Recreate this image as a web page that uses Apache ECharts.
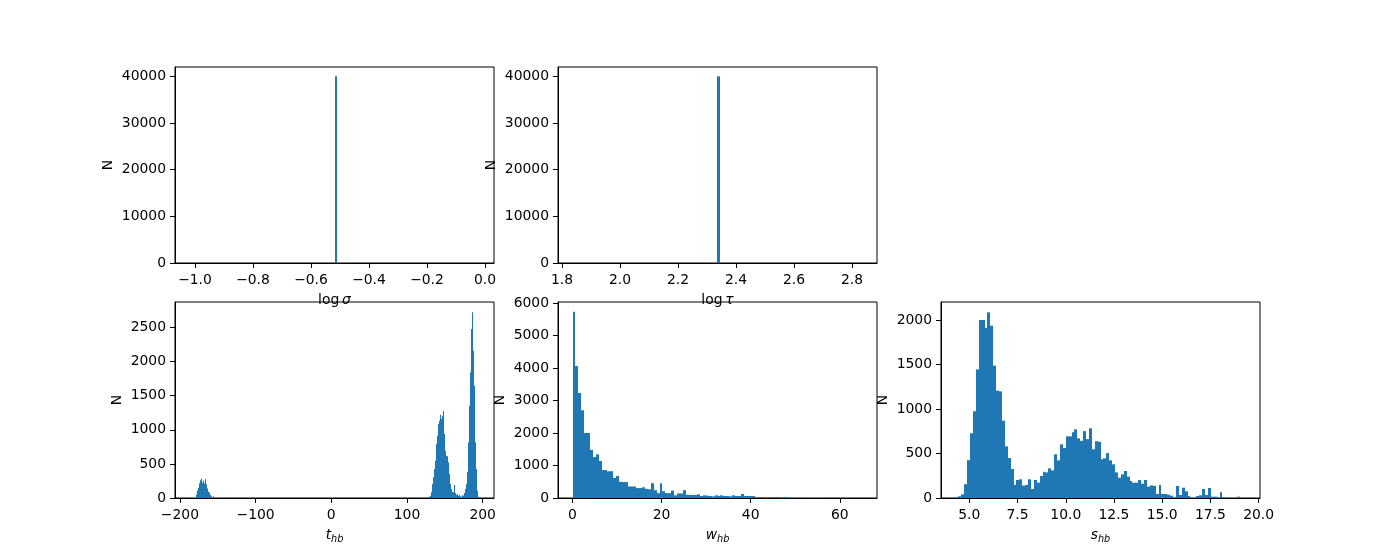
<!DOCTYPE html>
<html><head><meta charset="utf-8">
<script src="https://cdn.jsdelivr.net/npm/echarts@6/dist/echarts.min.js"></script>
<style>html,body{margin:0;padding:0;background:#fff}#c{width:1400px;height:560px}</style>
</head><body><div id="c"></div>
<script>
// ---- data ----
const sigmaStart = -0.519, sigmaBinWidth = 0.01, sigmaCounts = [40000];
const tauStart = 2.336, tauBinWidth = 0.01, tauCounts = [40000];

const tBinWidth = 1.32;
const tLeftStart = -187.3;
const tLeftCounts = [10,0,0,0,0,0,50,110,150,215,260,285,225,255,215,280,200,140,90,80,45,25,0,25];
const tRightStart = 127.3;
const tRightCounts = [10,20,34,83,205,303,425,547,792,914,1085,1134,1222,1158,1207,1276,938,694,620,611,523,352,205,132,93,83,190,73,44,59,29,49,24,20,44,34,73,132,205,386,816,1354,1843,2478,2723,2160,1647,816,425,108,20];

const wStart = 0, wBinWidth = 0.651;
const wCounts = [5730,4060,3230,2700,2000,2000,1480,1260,1340,1140,
  860,860,820,825,620,677,500,490,490,355,
  355,355,305,305,330,280,270,455,240,150,
  455,210,150,150,230,82,140,140,240,100,
  92,92,92,113,62,82,72,62,51,82,
  62,82,62,62,51,82,62,62,123,62,
  62,62,62,31,31,31,10,20,31,31,
  31,31,10,31,8,5,4,3,2,2,
  1,1,0,1,1,0,1,0,0,1,
  0,0,1,0,0,0,0,0,0,1];

const sStart = 4.284, sBinWidth = 0.1504;
const sCounts = [9,19,41,155,425,728,975,1445,2000,2000,
  1910,2086,1936,1487,1206,1198,869,580,449,326,
  146,202,210,139,146,210,101,202,172,247,
  296,288,333,311,491,423,603,562,693,693,
  738,771,670,642,751,661,783,548,638,631,
  436,446,504,423,378,288,228,266,303,240,
  191,172,172,202,161,202,127,142,135,45,
  146,45,45,37,26,7,135,34,116,75,
  22,7,0,22,30,101,34,112,15,15,
  0,64,11,0,0,0,0,15,0,4];

// tick labels
const sigmaTicks = [-1.0,-0.8,-0.6,-0.4,-0.2,0.0];
const tauTicks = [1.8,2.0,2.2,2.4,2.6,2.8];
const topYTicks = [0,10000,20000,30000,40000];
const tXTicks = [-200,-100,0,100,200];
const tYTicks = [0,500,1000,1500,2000,2500];
const wXTicks = [0,20,40,60];
const wYTicks = [0,1000,2000,3000,4000,5000,6000];
const sXTicks = [5.0,7.5,10.0,12.5,15.0,17.5,20.0];
const sYTicks = [0,500,1000,1500,2000];

// ---- chart ----
const FONT = 'DejaVu Sans';
const FS = 13.9;
const BLUE = '#1f77b4';

function bins(start, width, counts) {
  return counts.map((c, i) => [start + i * width, start + (i + 1) * width, c]);
}
function fmt(dec) {
  return v => (dec ? Number(v).toFixed(dec) : String(Math.round(v))).replace('-', '\u2212');
}
const rich = {
  r: {fontFamily: FONT, fontSize: FS, color: '#000'},
  i: {fontFamily: FONT, fontSize: FS, fontStyle: 'italic', color: '#000'},
  s: {fontFamily: FONT, fontSize: 9.7, fontStyle: 'italic', color: '#000', padding: [7, 0, 0, 0]}
};

const grids = [
  {left: 175, top: 67},
  {left: 558, top: 67},
  {left: 175, top: 302},
  {left: 558, top: 302},
  {left: 941, top: 302}
].map(g => Object.assign(g, {width: 319, height: 196, show: true, borderColor: '#000', borderWidth: 1,
  backgroundColor: 'transparent', containLabel: false, outerBoundsMode: 'none'}));

function xAx(idx, min, max, ticks, dec, name, gap) {
  return {
    type: 'value', gridIndex: idx, min: min, max: max, position: 'bottom',
    axisLine: {show: true, onZero: false, lineStyle: {color: '#000', width: 1}},
    axisTick: {show: true, length: 5, inside: false, customValues: ticks, lineStyle: {color: '#000', width: 1}},
    axisLabel: {show: true, customValues: ticks, formatter: fmt(dec), margin: 10, color: '#000', fontFamily: FONT, fontSize: FS},
    splitLine: {show: false},
    name: name, nameLocation: 'middle', nameGap: gap,
    nameTextStyle: {color: '#000', fontFamily: FONT, fontSize: FS, rich: rich}
  };
}
function yAx(idx, max, ticks, gap) {
  return {
    type: 'value', gridIndex: idx, min: 0, max: max, position: 'left',
    axisLine: {show: true, onZero: false, lineStyle: {color: '#000', width: 1}},
    axisTick: {show: true, length: 5, inside: false, customValues: ticks, lineStyle: {color: '#000', width: 1}},
    axisLabel: {show: true, customValues: ticks, formatter: fmt(0), margin: 9, color: '#000', fontFamily: FONT, fontSize: FS},
    splitLine: {show: false},
    name: 'N', nameLocation: 'middle', nameGap: gap,
    nameTextStyle: {color: '#000', fontFamily: FONT, fontSize: FS}
  };
}

function histSeries(idx, data) {
  return {
    type: 'custom', xAxisIndex: idx, yAxisIndex: idx, clip: true,
    encode: {x: [0, 1], y: 2},
    data: data,
    renderItem: function (params, api) {
      const p0 = api.coord([api.value(0), 0]);
      const p1 = api.coord([api.value(1), api.value(2)]);
      const xa = Math.round(p0[0]);
      const xb = Math.max(Math.round(p1[0]), xa + 1);
      return {type: 'rect', shape: {x: xa, y: p1[1], width: xb - xa, height: p0[1] - p1[1]},
        style: {fill: BLUE}};
    }
  };
}

const option = {
  animation: false,
  backgroundColor: '#fff',
  grid: grids,
  xAxis: [
    xAx(0, -1.069, 0.031, sigmaTicks, 1, '{r|log}{i|\u2009\u03c3}', 30),
    xAx(1, 1.786, 2.886, tauTicks, 1, '{r|log}{i|\u2009\u03c4}', 30),
    xAx(2, -206.5, 215, tXTicks, 0, '{i|t}{s|hb}', 29),
    xAx(3, -3.26, 68.35, wXTicks, 0, '{i|w}{s|hb}', 29),
    xAx(4, 3.532, 20.07, sXTicks, 1, '{i|s}{s|hb}', 29)
  ],
  yAxis: [
    yAx(0, 42000, topYTicks, 60),
    yAx(1, 42000, topYTicks, 60),
    yAx(2, 2874, tYTicks, 51),
    yAx(3, 6030, wYTicks, 51),
    yAx(4, 2202, sYTicks, 51)
  ],
  series: [
    histSeries(0, bins(sigmaStart, sigmaBinWidth, sigmaCounts)),
    histSeries(1, bins(tauStart, tauBinWidth, tauCounts)),
    histSeries(2, bins(tLeftStart, tBinWidth, tLeftCounts).concat(bins(tRightStart, tBinWidth, tRightCounts))),
    histSeries(3, bins(wStart, wBinWidth, wCounts)),
    histSeries(4, bins(sStart, sBinWidth, sCounts))
  ]
};
const chart = echarts.init(document.getElementById('c'), null, {renderer: 'canvas'});
chart.setOption(option);
</script></body></html>
